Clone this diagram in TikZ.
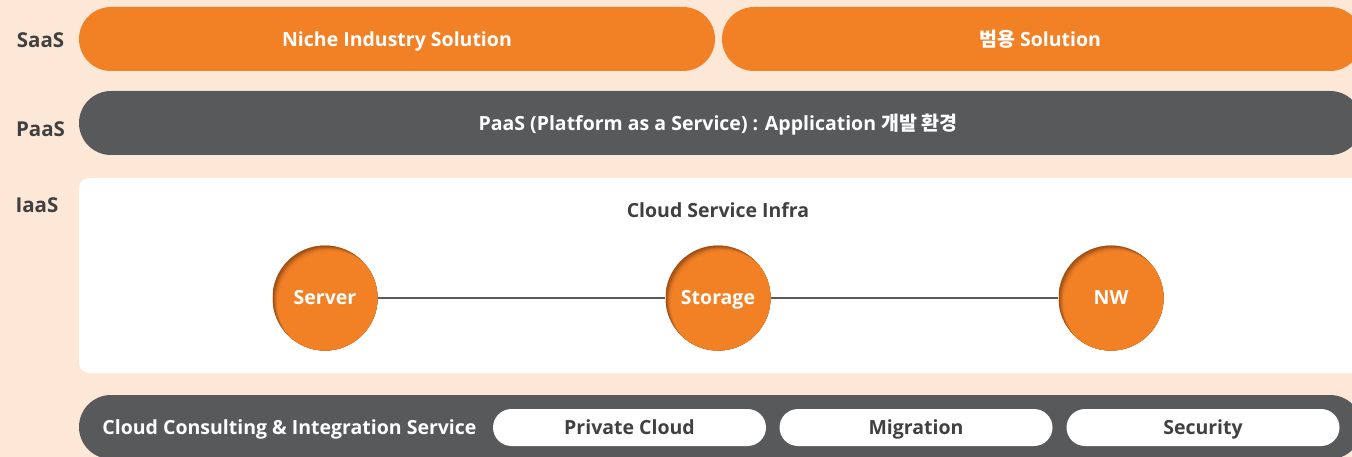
\documentclass[tikz,border=0pt]{standalone}
\usepackage{fontspec}
\setmainfont{Open Sans}
\newfontfamily\krfont{Noto Sans CJK KR}
\definecolor{bgpeach}{HTML}{FDE8D8}
\definecolor{orng}{HTML}{F28126}
\definecolor{dgray}{HTML}{58595B}
\definecolor{txtgray}{HTML}{404040}
\definecolor{shad}{HTML}{9E4E16}
\tikzset{
  lvl/.style={font=\bfseries\fontsize{20.5}{24}\selectfont, text=txtgray, text height=14.6pt, text depth=0pt},
  wtxt/.style={font=\bfseries\fontsize{19.5}{23}\selectfont, text=white, text height=13.9pt, text depth=0pt},
  gtxt/.style={font=\bfseries\fontsize{19.5}{23}\selectfont, text=txtgray, text height=13.9pt, text depth=0pt},
  pill/.style={fill=white, rounded corners=18.5pt, minimum width=273pt, minimum height=37pt, inner sep=0pt, gtxt},
  ball/.style={circle, fill=orng, minimum size=105pt, inner sep=0pt, wtxt,
    path picture={
      \fill[shad] (path picture bounding box.south west) rectangle (path picture bounding box.north east);
      \fill[shad!80!orng] ([shift={(1,1)}]path picture bounding box.center) circle (52.5);
      \fill[shad!55!orng] ([shift={(2,2)}]path picture bounding box.center) circle (52.5);
      \fill[shad!30!orng] ([shift={(3,3)}]path picture bounding box.center) circle (52.5);
      \fill[shad!12!orng] ([shift={(4,4)}]path picture bounding box.center) circle (52.5);
      \fill[orng] ([shift={(5.5,5.5)}]path picture bounding box.center) circle (52.5);
    }},
  link/.style={draw=dgray, line width=1.2pt}
}
\begin{document}
\begin{tikzpicture}[x=1pt,y=-1pt]
\useasboundingbox (0,0) rectangle (1352,457);
\clip (0,0) rectangle (1352,457);
\fill[bgpeach] (0,0) rectangle (1352,457);
% SaaS
\fill[orng, rounded corners=32pt] (79,7) rectangle (715,71);
\fill[orng, rounded corners=32pt] (722,7) rectangle (1362,71);
\node[wtxt] (niche) at (397,40) {Niche Industry Solution};
\node[wtxt] (gen) at (1040,40) {{\krfont\bfseries 범용} Solution};
% PaaS
\fill[dgray, rounded corners=32pt] (79,91) rectangle (1362,155);
\node[wtxt] (paas) at (718,123.5) {PaaS (Platform as a Service) : Application {\krfont\bfseries 개발 환경}};
% IaaS
\fill[white, rounded corners=10pt] (79,178) rectangle (1370,373);
\node[gtxt] (csi) at (718,211) {Cloud Service Infra};
\node[ball] (server) at (325,298) {Server};
\node[ball] (storage) at (718,298) {Storage};
\node[ball] (nw) at (1111,298) {NW};
\draw[link] (server) -- (storage);
\draw[link] (storage) -- (nw);
% bottom
\fill[dgray, rounded corners=32pt] (79,395) rectangle (1362,459);
\node[wtxt] (ccis) at (289.5,428) {Cloud Consulting \& Integration Service};
\node[pill] (priv) at (629.5,427.5) {Private Cloud};
\node[pill] (mig) at (916,427.5) {Migration};
\node[pill] (sec) at (1203,427.5) {Security};
% level labels
\node[lvl] (lsaas) at (40.5,40) {SaaS};
\node[lvl] (lpaas) at (40.5,129) {PaaS};
\node[lvl] (liaas) at (37,205.5) {IaaS};
\end{tikzpicture}
\end{document}
